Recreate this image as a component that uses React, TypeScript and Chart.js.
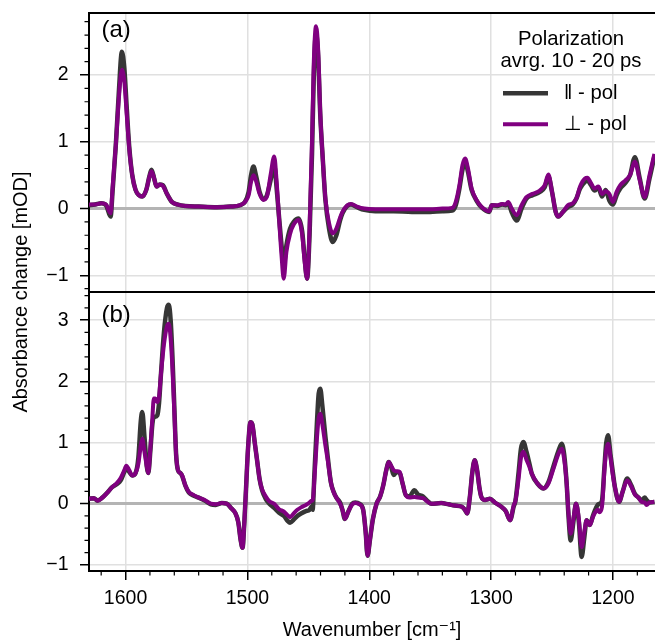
import { useEffect, useRef } from "react";
import { Chart, registerables } from "chart.js";

Chart.register(...registerables);

const FONT = "'Liberation Sans', Arial, 'DejaVu Sans', sans-serif";
const GREY = "#363636";
const PURPLE = "#800080";
const GRID = "#e0e0e0";
const ZERO = "#b4b4b4";

// ---------- data: panel (a) ----------
const waveA = [
  1630, 1625, 1620, 1616, 1612.3, 1610.5, 1608, 1605.5, 1603, 1601, 1599, 1597, 1594.5, 1591.8, 1589,
  1586.3, 1583, 1580.5, 1578.7, 1576.5, 1574.6, 1572, 1569.4, 1566, 1562, 1557, 1551, 1540, 1525, 1514,
  1506, 1502, 1499, 1497, 1495, 1493, 1490, 1487, 1484, 1481, 1478, 1476, 1474.3, 1472, 1470.2, 1468,
  1465, 1462, 1458, 1455, 1453, 1451, 1449, 1447, 1445.5, 1443.7, 1442, 1440.2, 1438, 1436, 1433, 1430,
  1427, 1424, 1422, 1418, 1415, 1410, 1404, 1395, 1380, 1365, 1350, 1340, 1332, 1329, 1326, 1323.5,
  1321.3, 1319, 1316, 1312, 1308, 1301.5, 1299.5, 1295, 1291, 1288, 1286, 1283, 1279, 1275, 1271, 1266,
  1260, 1256, 1253, 1250, 1247, 1245, 1241, 1237, 1233, 1230, 1227, 1223, 1221, 1218, 1215, 1212, 1209,
  1206, 1203, 1200, 1197, 1194, 1190, 1186, 1182, 1178, 1174, 1170, 1166,
];
const parA = [
  0.05, 0.06, 0.08, 0.05, -0.12, 0.3, 0.95, 1.75, 2.35, 2.1, 1.5, 0.93, 0.5, 0.28, 0.2,
  0.18, 0.28, 0.48, 0.58, 0.45, 0.33, 0.36, 0.35, 0.22, 0.1, 0.06, 0.04, 0.03, 0.02, 0.03,
  0.05, 0.1, 0.25, 0.5, 0.63, 0.5, 0.25, 0.14, 0.2, 0.42, 0.65, 0.3, -0.07, -0.55, -0.85, -0.55,
  -0.3, -0.2, -0.15, -0.35, -0.75, -1.05, -0.4, 0.8, 2.0, 2.62, 2.3, 1.4, 0.7, 0.13, -0.3, -0.5,
  -0.4, -0.18, -0.07, 0.04, 0.06, 0.02, -0.02, -0.04, -0.04, -0.05, -0.05, -0.04, -0.03, 0.05, 0.3, 0.58,
  0.7, 0.55, 0.28, 0.12, 0.02, -0.05, 0.05, 0.04, 0.06, 0.05, 0.08, -0.06, -0.18, 0.0, 0.15, 0.2,
  0.25, 0.32, 0.48, 0.25, -0.05, -0.12, -0.05, 0.02, 0.06, 0.15, 0.3, 0.4, 0.42, 0.35, 0.27, 0.32, 0.18,
  0.28, 0.12, 0.06, 0.2, 0.3, 0.38, 0.5, 0.77, 0.45, 0.15, 0.45, 0.78,
];
const perpA = [
  0.06, 0.06, 0.08, 0.06, -0.07, 0.35, 0.95, 1.65, 2.08, 1.9, 1.4, 0.9, 0.5, 0.28, 0.2,
  0.18, 0.28, 0.47, 0.56, 0.45, 0.33, 0.36, 0.34, 0.22, 0.1, 0.06, 0.04, 0.03, 0.02, 0.03,
  0.05, 0.1, 0.2, 0.4, 0.5, 0.42, 0.22, 0.13, 0.18, 0.5, 0.78, 0.4, -0.07, -0.7, -1.05, -0.65,
  -0.38, -0.24, -0.17, -0.4, -0.8, -1.05, -0.3, 1.0, 2.2, 2.73, 2.4, 1.43, 0.7, 0.15, -0.22, -0.37,
  -0.3, -0.14, -0.05, 0.05, 0.07, 0.03, 0.0, -0.01, -0.01, -0.01, -0.01, 0.0, 0.01, 0.1, 0.35, 0.65,
  0.75, 0.6, 0.3, 0.13, 0.03, -0.04, 0.05, 0.05, 0.07, 0.06, 0.1, 0.0, -0.1, 0.05, 0.17, 0.22,
  0.27, 0.35, 0.51, 0.25, -0.05, -0.12, -0.05, 0.05, 0.08, 0.15, 0.33, 0.45, 0.46, 0.38, 0.3, 0.33, 0.22,
  0.26, 0.22, 0.1, 0.25, 0.35, 0.42, 0.5, 0.7, 0.42, 0.17, 0.5, 0.82,
];

// ---------- data: panel (b) ----------
const waveB = [
  1630, 1626, 1623, 1619, 1615, 1611, 1607, 1604, 1601, 1599.4, 1597, 1594.5, 1591.8, 1589.5, 1587.5,
  1586.3, 1584.5, 1582.5, 1581.4, 1579.5, 1578, 1576.8, 1575.5, 1574, 1572.5, 1571, 1568.5, 1566, 1564.5,
  1563, 1561.5, 1560, 1558.5, 1557, 1555, 1553.5, 1551, 1548, 1544, 1540, 1535, 1530, 1526, 1521, 1517,
  1513, 1510, 1507.5, 1505.5, 1504, 1502.5, 1501, 1499.5, 1497.5, 1496, 1494, 1492, 1490, 1488, 1485,
  1482, 1478, 1474, 1470, 1467, 1465, 1462, 1459, 1456, 1452, 1449, 1447.5, 1446.5, 1445, 1443, 1441.5,
  1440.2, 1438.5, 1436, 1434, 1431.5, 1429.3, 1427, 1424, 1422, 1420, 1417, 1414, 1411.5, 1408, 1405,
  1403, 1401.4, 1399.5, 1397, 1394, 1391, 1388.5, 1386, 1384, 1382, 1380, 1377.5, 1375, 1372.5, 1370,
  1367, 1363, 1360, 1356, 1352, 1349, 1341, 1335, 1330, 1324, 1321.5, 1319.6, 1317.5, 1315.5, 1313.5,
  1311.5, 1309.5, 1308, 1305, 1301, 1297, 1291.6, 1288, 1284.4, 1281.5, 1280, 1277.5, 1275.5, 1273.5,
  1271, 1268.5, 1266.6, 1262, 1257, 1253, 1249, 1245, 1242.1, 1240, 1238, 1236.5, 1234.7, 1232.5, 1230.3,
  1228, 1225.7, 1223.5, 1221.6, 1219, 1216.5, 1214.8, 1212.5, 1211, 1209, 1207, 1205.5, 1204, 1202, 1200,
  1198.4, 1195, 1192, 1188.3, 1185, 1182, 1179, 1176.5, 1174, 1172.4, 1170, 1166,
];
const parB = [
  0.08, 0.09, 0.05, 0.1, 0.18, 0.27, 0.32, 0.38, 0.52, 0.58, 0.52, 0.46, 0.5, 0.75, 1.35,
  1.5, 1.1, 0.6, 0.5, 0.9, 1.3, 1.42, 1.42, 1.44, 1.65, 2.1, 2.8, 3.2, 3.25,
  3.0, 2.4, 1.6, 0.8, 0.55, 0.5, 0.45, 0.3, 0.18, 0.13, 0.1, 0.05, -0.01, -0.02, 0.01, 0.0,
  -0.08, -0.15, -0.3, -0.6, -0.72, -0.3, 0.3, 0.9, 1.33, 1.3, 1.0, 0.7, 0.4, 0.22, 0.08,
  0.0, -0.07, -0.15, -0.2, -0.28, -0.31, -0.26, -0.2, -0.16, -0.12, -0.1, -0.05, -0.1, 0.5, 1.3, 1.8,
  1.88, 1.6, 1.1, 0.75, 0.35, 0.2, 0.1, 0.02, -0.1, -0.25, -0.12, 0.0, 0.02, 0.0, -0.1,
  -0.45, -0.85, -0.6, -0.25, 0.0, 0.12, 0.3, 0.55, 0.68, 0.6, 0.47, 0.52, 0.5, 0.32, 0.14,
  0.12, 0.22, 0.15, 0.12, 0.04, 0.0, 0.01, -0.01, -0.03, -0.05, -0.1, -0.16, 0.1, 0.5, 0.71,
  0.55, 0.25, 0.11, 0.06, 0.08, 0.02, -0.05, -0.12, -0.27, -0.05, 0.05, 0.5, 0.9, 1.01,
  0.85, 0.65, 0.49, 0.33, 0.25, 0.35, 0.6, 0.85, 0.98, 0.8, 0.33, -0.2, -0.6, -0.3, 0.0,
  -0.3, -0.87, -0.55, -0.27, -0.35, -0.2, -0.11, -0.02, 0.0, 0.05, 0.6, 1.0, 1.12, 0.8, 0.5,
  0.27, 0.03, 0.2, 0.41, 0.3, 0.16, 0.1, 0.05, 0.1, 0.06, 0.02, 0.03,
];
const perpB = [
  0.08, 0.09, 0.05, 0.1, 0.18, 0.27, 0.34, 0.42, 0.55, 0.62, 0.55, 0.46, 0.5, 0.65, 0.95,
  1.06, 0.85, 0.6, 0.5, 0.95, 1.4, 1.72, 1.72, 1.66, 1.75, 2.1, 2.6, 2.9, 2.94,
  2.7, 2.2, 1.5, 0.8, 0.55, 0.5, 0.46, 0.3, 0.19, 0.14, 0.1, 0.06, 0.0, -0.01, 0.01, 0.0,
  -0.08, -0.15, -0.3, -0.6, -0.72, -0.3, 0.3, 0.9, 1.33, 1.3, 1.0, 0.7, 0.4, 0.24, 0.12,
  0.04, 0.0, -0.09, -0.13, -0.19, -0.22, -0.16, -0.1, -0.06, -0.02, 0.02, 0.05, 0.05, 0.4, 1.05, 1.4,
  1.47, 1.3, 0.95, 0.7, 0.35, 0.19, 0.1, 0.0, -0.1, -0.25, -0.12, -0.01, 0.01, -0.01, -0.1,
  -0.45, -0.85, -0.6, -0.25, 0.0, 0.12, 0.3, 0.55, 0.68, 0.62, 0.55, 0.53, 0.52, 0.32, 0.14,
  0.1, 0.11, 0.1, 0.09, 0.03, 0.0, 0.01, -0.01, -0.03, -0.05, -0.1, -0.16, 0.1, 0.5, 0.71,
  0.55, 0.25, 0.11, 0.06, 0.08, 0.02, -0.05, -0.12, -0.27, -0.03, 0.05, 0.4, 0.75, 0.85,
  0.72, 0.6, 0.49, 0.33, 0.25, 0.33, 0.56, 0.8, 0.9, 0.72, 0.33, -0.15, -0.49, -0.25, 0.0,
  -0.25, -0.71, -0.45, -0.27, -0.35, -0.22, -0.15, -0.1, -0.14, -0.05, 0.55, 0.88, 0.98, 0.75, 0.45,
  0.27, 0.03, 0.2, 0.38, 0.28, 0.15, 0.1, 0.03, 0.02, -0.02, 0.02, 0.03,
];

// ---------- axes / labels ----------
const xRange = [1165.5, 1630];
const yRangeA = [-1.25, 2.93];
const yRangeB = [-1.1, 3.46];
const xTicks = [1600, 1500, 1400, 1300, 1200];
const yTicksA = [-1, 0, 1, 2];
const yTicksB = [-1, 0, 1, 2, 3];
const xMinorStep = 20;
const yMinorStep = 0.2;
const seriesLabels = ["\u2016 - pol", "\u22A5 - pol"];
const legendTitle = ["Polarization", "avrg. 10 - 20 ps"];
const panelLabels = ["(a)", "(b)"];
const xTitle = "Wavenumber [cm\u207B\u00B9]";
const yTitle = "Absorbance change [mOD]";

const fmt = (v: number) => (v < 0 ? "\u2212" + Math.abs(v) : String(v));
const pts = (w: number[], v: number[]) => w.map((x, i) => ({ x, y: v[i] }));

const grid = {
  color: (c: any) => (c.tick && c.tick.value === 0 ? ZERO : GRID),
  lineWidth: (c: any) => (c.tick && c.tick.value === 0 ? 3 : 1.5),
  tickColor: "#000",
  tickWidth: 1.5,
  tickLength: 9,
  drawTicks: true,
};
const border = { display: true, color: "#000", width: 2 };
const tickFont = { family: FONT, size: 19.5 };

function yScale(range: number[], ticks: number[], weight: number) {
  return {
    type: "linear" as const,
    position: "left" as const,
    stack: "panels",
    stackWeight: 1,
    weight,
    min: range[0],
    max: range[1],
    afterBuildTicks: (s: any) => {
      s.ticks = ticks.map((v) => ({ value: v }));
    },
    afterFit: (s: any) => {
      s.width = 89;
      s.paddingTop = 0;
      s.paddingBottom = 0;
    },
    ticks: { font: tickFont, color: "#000", padding: 11.5, callback: (v: any) => fmt(Number(v)) },
    grid,
    border,
  };
}

const decor = {
  id: "decor",
  afterDraw(chart: any) {
    const { ctx, chartArea } = chart;
    const x = chart.scales.x;
    const ya = chart.scales.ya;
    const yb = chart.scales.yb;
    ctx.save();
    // frame lines (top and between panels)
    ctx.strokeStyle = "#000";
    ctx.lineWidth = 2;
    ctx.beginPath();
    ctx.moveTo(chartArea.left - 1, ya.top);
    ctx.lineTo(chartArea.right, ya.top);
    ctx.moveTo(chartArea.left - 1, yb.top);
    ctx.lineTo(chartArea.right, yb.top);
    ctx.stroke();

    // minor ticks
    ctx.lineWidth = 1.2;
    ctx.beginPath();
    const lo = Math.ceil(x.min / xMinorStep);
    const hi = Math.floor(x.max / xMinorStep);
    for (let k = lo; k <= hi; k++) {
      if (k % 5 === 0) continue;
      const px = x.getPixelForValue(k * xMinorStep);
      ctx.moveTo(px, x.top);
      ctx.lineTo(px, x.top + 4.5);
    }
    for (const ys of [ya, yb]) {
      const a = Math.ceil(ys.min / yMinorStep - 1e-9);
      const b = Math.floor(ys.max / yMinorStep + 1e-9);
      for (let k = a; k <= b; k++) {
        if (k % 5 === 0) continue;
        const py = ys.getPixelForValue(k * yMinorStep);
        ctx.moveTo(ys.right - 4.5, py);
        ctx.lineTo(ys.right, py);
      }
    }
    ctx.stroke();

    // y title
    ctx.fillStyle = "#000";
    ctx.font = `20px ${FONT}`;
    ctx.textAlign = "center";
    ctx.textBaseline = "middle";
    ctx.save();
    ctx.translate(21, (chartArea.top + chartArea.bottom) / 2);
    ctx.rotate(-Math.PI / 2);
    ctx.fillText(yTitle, 0, 0);
    ctx.restore();

    // panel labels
    ctx.font = `24px ${FONT}`;
    ctx.textAlign = "left";
    ctx.textBaseline = "alphabetic";
    ctx.fillText(panelLabels[0], chartArea.left + 12.5, ya.top + 24);
    ctx.fillText(panelLabels[1], chartArea.left + 12.5, yb.top + 30);

    // legend
    const cx = chartArea.right - 84;
    ctx.font = `20.3px ${FONT}`;
    ctx.textAlign = "center";
    ctx.textBaseline = "middle";
    ctx.fillText(legendTitle[0], cx, ya.top + 26);
    ctx.fillText(legendTitle[1], cx, ya.top + 48.7);
    const ds = chart.data.datasets;
    const rows = [ya.top + 80.3, ya.top + 111.3];
    for (let i = 0; i < 2; i++) {
      ctx.strokeStyle = ds[i].borderColor;
      ctx.lineWidth = ds[i].borderWidth;
      ctx.beginPath();
      ctx.moveTo(chartArea.right - 152, rows[i]);
      ctx.lineTo(chartArea.right - 107, rows[i]);
      ctx.stroke();
      ctx.textAlign = "left";
      ctx.fillText(ds[i].label, chartArea.right - 91, rows[i]);
    }
    ctx.restore();
  },
};

export default function App() {
  const ref = useRef<HTMLCanvasElement>(null);
  useEffect(() => {
    document.body.style.margin = "0";
    const line = { pointRadius: 0, fill: false, cubicInterpolationMode: "monotone" as const };
    const grey = { ...line, borderColor: GREY, borderWidth: 4.5, order: 2 };
    const purple = { ...line, borderColor: PURPLE, borderWidth: 4, order: 1 };
    const chart = new Chart(ref.current!, {
      type: "line",
      data: {
        datasets: [
          { ...grey, label: seriesLabels[0], data: pts(waveA, parA), yAxisID: "ya" },
          { ...purple, label: seriesLabels[1], data: pts(waveA, perpA), yAxisID: "ya" },
          { ...grey, label: seriesLabels[0] + " (b)", data: pts(waveB, parB), yAxisID: "yb" },
          { ...purple, label: seriesLabels[1] + " (b)", data: pts(waveB, perpB), yAxisID: "yb" },
        ],
      },
      options: {
        responsive: false,
        animation: false,
        layout: { padding: { top: 13, left: 0, right: 0, bottom: 0 } },
        plugins: { legend: { display: false }, tooltip: { enabled: false } },
        scales: {
          x: {
            type: "linear",
            position: "bottom",
            reverse: true,
            min: xRange[0],
            max: xRange[1],
            afterBuildTicks: (s: any) => {
              s.ticks = xTicks.map((v) => ({ value: v }));
            },
            afterFit: (s: any) => {
              s.height = 69;
              s.paddingLeft = 0;
              s.paddingRight = 0;
            },
            ticks: { font: tickFont, color: "#000", padding: 7, maxRotation: 0, callback: (v: any) => String(v) },
            title: {
              display: true,
              text: xTitle,
              color: "#000",
              font: { family: FONT, size: 20, lineHeight: 1 },
              padding: { top: 0, bottom: 0 },
            },
            grid,
            border,
          },
          ya: yScale(yRangeA, yTicksA, 2),
          yb: yScale(yRangeB, yTicksB, 1),
        },
      },
      plugins: [decor],
    } as any);
    return () => chart.destroy();
  }, []);
  return (
    <div style={{ width: 655, height: 640 }}>
      <canvas ref={ref} width={655} height={640} style={{ display: "block", width: 655, height: 640 }} />
    </div>
  );
}
